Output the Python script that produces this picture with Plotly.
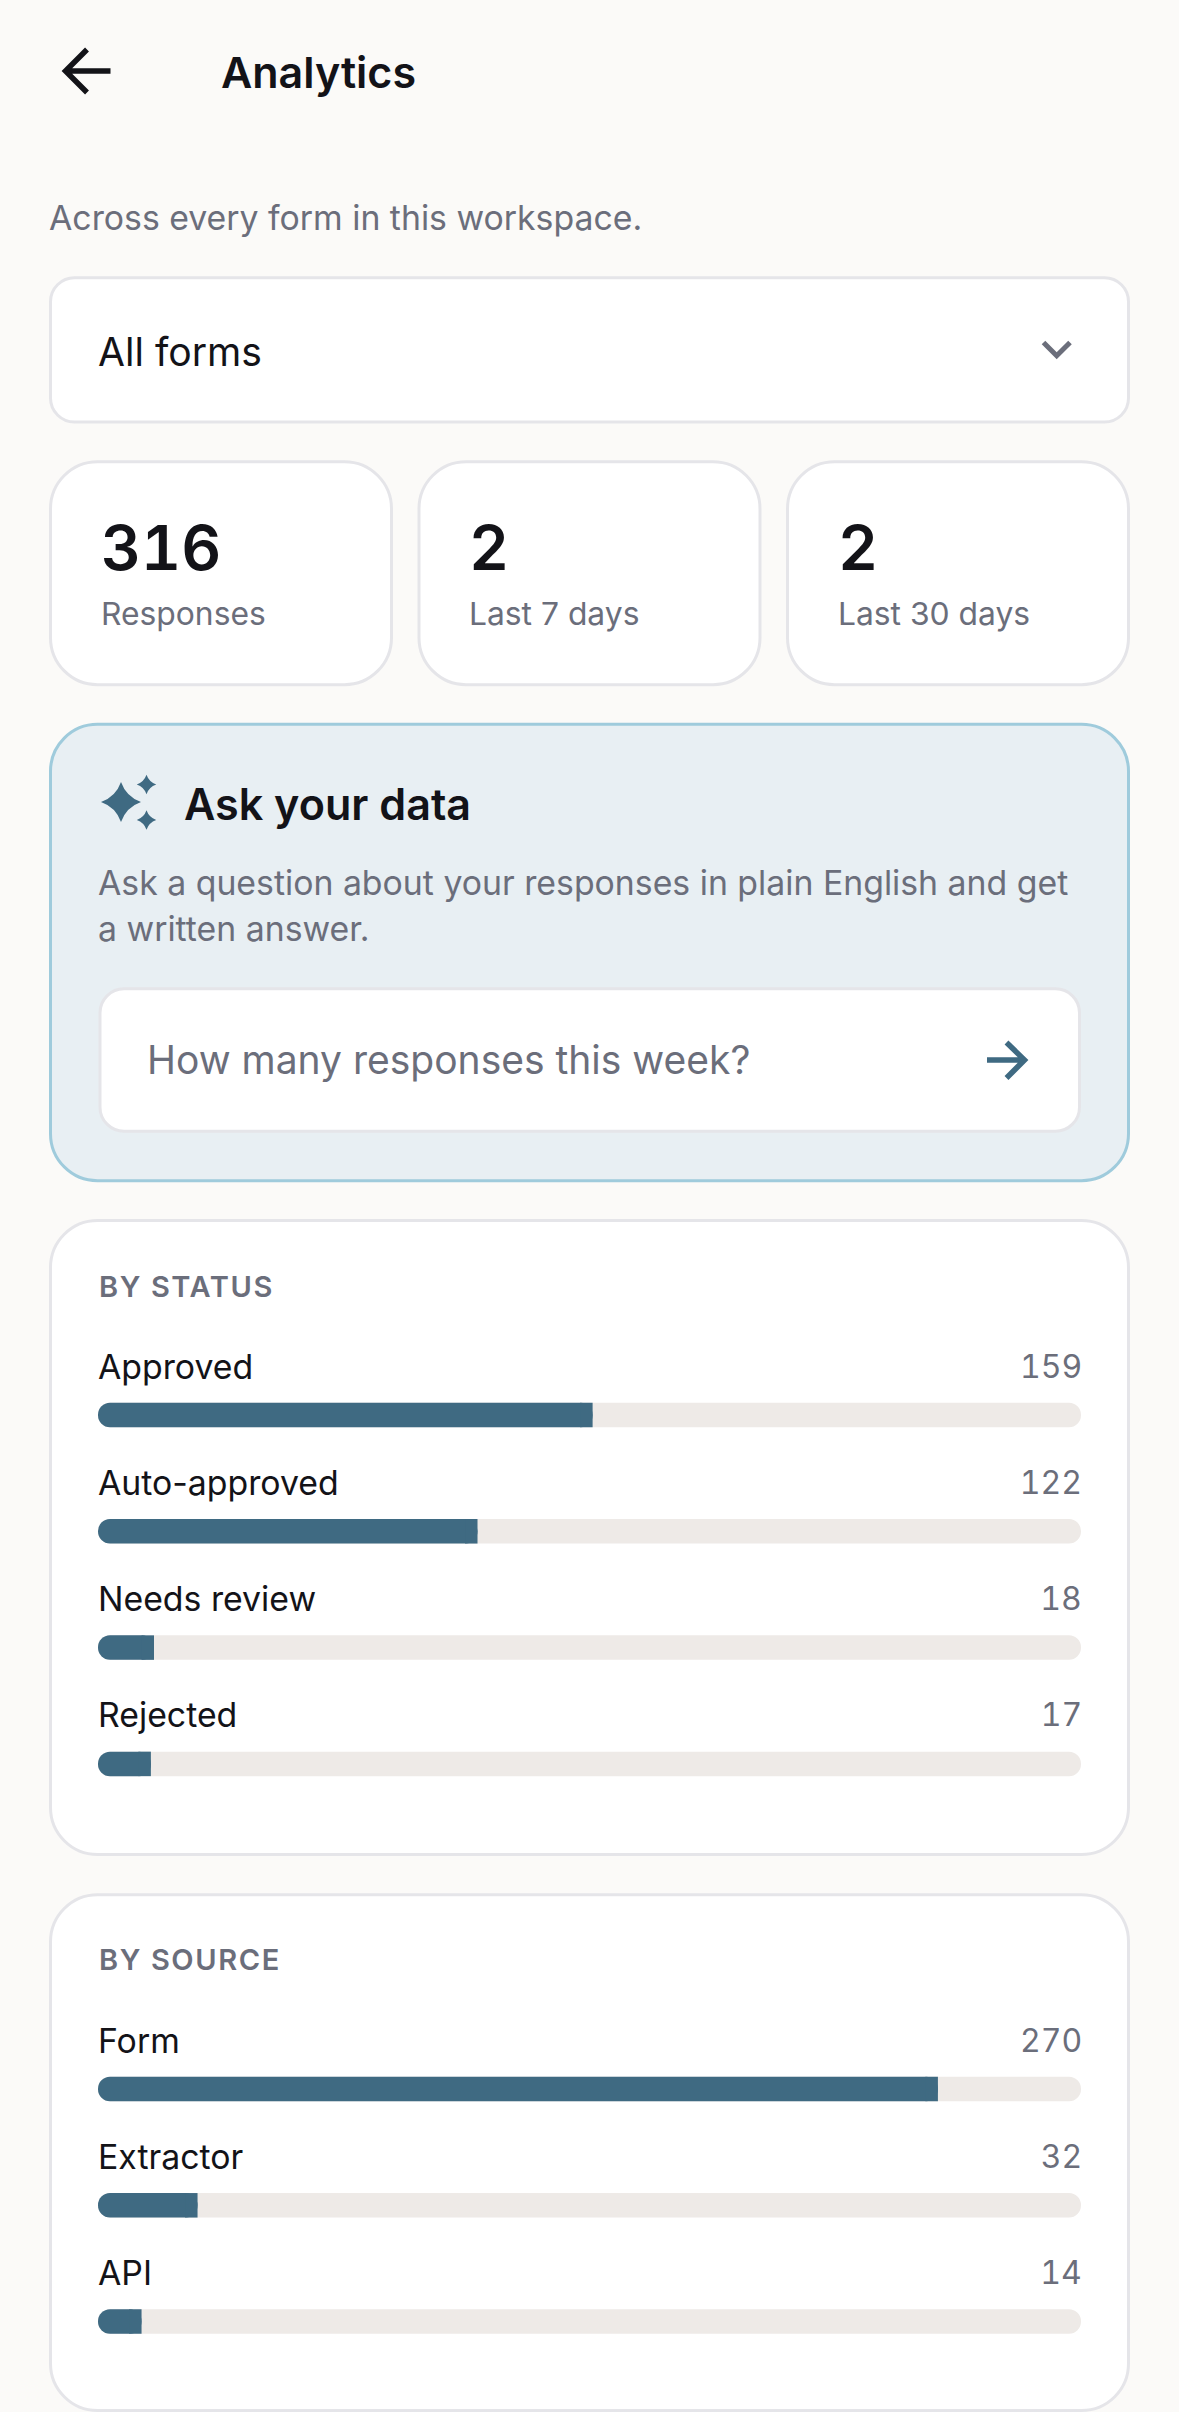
"""
Analytics screen - status and source breakdown of form responses.
"""
import plotly.graph_objects as go

WIDTH = 1179
HEIGHT = 2412

# Data
total_responses = 316
stat_values = ["316", "2", "2"]
stat_labels = ["Responses", "Last 7 days", "Last 30 days"]
status_labels = ["Approved", "Auto-approved", "Needs review", "Rejected"]
status_counts = [159, 122, 18, 17]
source_labels = ["Form", "Extractor", "API"]
source_counts = [270, 32, 14]

# Colours
BG = "#fbfaf8"
WHITE = "#ffffff"
BORDER = "#e5e5e9"
TRACK = "rgba(238,234,231,0.999)"  # alpha below 1 makes plotly snap bars to whole pixels
TEAL = "#3f6a82"
FILL = "rgba(63,106,130,0.999)"
DARK = "#131318"
GREY = "#6b6e7b"
ASK_BG = "#e8eff3"
ASK_BORDER = "#9fcbdc"

FONT = "Inter"
ROW_PITCH = 116.3
BAR_HEIGHT = 24.5
CAP = 4  # length of the square end cap, in axis units (just over the corner radius)


def rounded_rect(x0, y0, x1, y1, r):
    c = r * 0.4477  # control point offset for a circular corner
    return (
        f"M {x0 + r} {y0} L {x1 - r} {y0} C {x1 - c} {y0} {x1} {y0 + c} {x1} {y0 + r} "
        f"L {x1} {y1 - r} C {x1} {y1 - c} {x1 - c} {y1} {x1 - r} {y1} L {x0 + r} {y1} "
        f"C {x0 + c} {y1} {x0} {y1 - c} {x0} {y1 - r} L {x0} {y0 + r} "
        f"C {x0} {y0 + c} {x0 + c} {y0} {x0 + r} {y0} Z"
    )


def sparkle(cx, cy, r):
    k = r * 0.26
    return (
        f"M {cx} {cy - r} Q {cx + k} {cy - k} {cx + r} {cy} "
        f"Q {cx + k} {cy + k} {cx} {cy + r} "
        f"Q {cx - k} {cy + k} {cx - r} {cy} "
        f"Q {cx - k} {cy - k} {cx} {cy - r} Z"
    )


fig = go.Figure()


def add_card(x0, y0, x1, y1, r, fill=WHITE, border=BORDER):
    fig.add_shape(
        type="path", path=rounded_rect(x0, y0, x1, y1, r), xref="x", yref="y",
        fillcolor=fill, line=dict(color=border, width=3), layer="below",
    )


def add_icon(path, color, width=5.5):
    fig.add_shape(
        type="path", path=path, xref="x", yref="y",
        line=dict(color=color, width=width), layer="below",
    )


def add_text(x, y, text, size, color=DARK, weight=400, anchor="left"):
    fig.add_annotation(
        x=x, y=y, xref="x", yref="y", text=text, showarrow=False,
        xanchor=anchor, yanchor="middle", align=anchor, borderpad=0,
        font=dict(family=FONT, size=size, color=color, weight=weight),
    )


def add_rows(labels, counts, xname, yname, top):
    """Track and fill bars plus the label and count above each one."""
    n = len(labels)
    suffix = xname[1:]
    # a bar with a base gets all four corners rounded; the cap squares off the fill's end
    for size, base, color, radius in [
        ([total_responses] * n, [0] * n, TRACK, 12),
        (counts, [0] * n, FILL, 12),
        ([CAP] * n, [c - CAP for c in counts], FILL, 0),
    ]:
        fig.add_trace(go.Bar(
            y=labels, x=size, base=base, orientation="h", width=BAR_HEIGHT / ROW_PITCH,
            marker=dict(color=color, cornerradius=radius, line_width=0),
            hoverinfo="skip", showlegend=False, xaxis=xname, yaxis=yname,
        ))
    for label, count in zip(labels, counts):
        fig.add_annotation(
            x=0, y=label, xref=xname, yref=yname, text=label, showarrow=False,
            xanchor="left", yanchor="middle", yshift=49, xshift=-1, borderpad=0,
            font=dict(family=FONT, size=33.8, color=DARK),
        )
        fig.add_annotation(
            x=total_responses, y=label, xref=xname, yref=yname, text=str(count), showarrow=False,
            xanchor="right", yanchor="middle", yshift=49, xshift=1.5, borderpad=0,
            font=dict(family=FONT, size=32, color=GREY),
        )
    height = ROW_PITCH * n
    fig.update_layout({
        f"xaxis{suffix}": dict(
            domain=[98 / WIDTH, 1081 / WIDTH], range=[0, total_responses], visible=False,
            anchor=yname, fixedrange=True,
        ),
        f"yaxis{suffix}": dict(
            domain=[1 - (top + height) / HEIGHT, 1 - top / HEIGHT], type="category",
            categoryorder="array", categoryarray=labels,
            range=[n - 0.5, -0.5], visible=False, anchor=xname, fixedrange=True,
        ),
    })


# Header
add_icon("M 87 49.5 L 65.5 71 L 87 92.5 M 65 71 L 110.5 71", DARK)
add_text(220, 72, "Analytics", 43, weight=600)
add_text(48, 217, "Across every form in this workspace.", 33.8, GREY)

# Form selector
add_card(50.5, 277.7, 1128.5, 422, 24)
add_text(97, 351, "All forms", 39.1)
add_icon("M 1043.5 342.5 L 1056.7 355.8 L 1070 342.5", GREY, width=5)

# Stat cards
card_lefts = [50.5, 419, 787.5]
for left, value, label in zip(card_lefts, stat_values, stat_labels):
    add_card(left, 461.7, left + 341, 684.7, 47)
    add_text(left + 49, 547, value, 62, weight=600)
    add_text(left + 49, 613, label, 31.8, GREY)

# Ask your data
add_card(50.5, 724.3, 1128.5, 1180.7, 47, fill=ASK_BG, border=ASK_BORDER)
fig.add_shape(type="path", path=sparkle(121, 802, 20), xref="x", yref="y",
              fillcolor=TEAL, line_width=0, layer="below")
fig.add_shape(type="path", path=sparkle(146.5, 784.5, 9.7), xref="x", yref="y",
              fillcolor=TEAL, line_width=0, layer="below")
fig.add_shape(type="path", path=sparkle(146.5, 820, 9.7), xref="x", yref="y",
              fillcolor=TEAL, line_width=0, layer="below")
add_text(183, 804, "Ask your data", 43.1, weight=600)
add_text(97, 882, "Ask a question about your responses in plain English and get", 33.8, GREY)
add_text(97, 928, "a written answer.", 33.8, GREY)
add_card(100, 988.8, 1079.5, 1131.2, 24)
add_text(146, 1059, "How many responses this week?", 39, GREY)
add_icon("M 1006.5 1042.5 L 1024.5 1060 L 1006.5 1078 M 1024 1060 L 987 1060", TEAL)

# By status
add_card(50.5, 1220.5, 1128.5, 1854.5, 47)
add_text(98, 1286, "BY STATUS", 29, GREY, weight=600)
add_rows(status_labels, status_counts, "x2", "y2", 1415 - ROW_PITCH / 2)

# By source
add_card(50.5, 1894.7, 1128.5, 2410.5, 47)
add_text(98, 1959.5, "BY SOURCE", 29, GREY, weight=600)
add_rows(source_labels, source_counts, "x3", "y3", 2089 - ROW_PITCH / 2)

fig.update_layout(
    width=WIDTH,
    height=HEIGHT,
    margin=dict(l=0, r=0, t=0, b=0),
    paper_bgcolor=BG,
    plot_bgcolor="rgba(0,0,0,0)",
    barmode="overlay",
    showlegend=False,
    xaxis=dict(domain=[0, 1], range=[0, WIDTH], visible=False, fixedrange=True),
    yaxis=dict(domain=[0, 1], range=[HEIGHT, 0], visible=False, fixedrange=True),
)

# plotly has no setting for tabular figures or letter spacing, so set them on the drawn text
post_script = """
document.body.style.margin = '0';
document.querySelectorAll('.annotation-text').forEach(function (el) {
    var text = el.textContent;
    var numeric = /^[0-9]+$/.test(text);
    if (!numeric && !/^BY /.test(text)) return;
    var box = el.getBBox();
    var alignRight = numeric && el.getBoundingClientRect().left > 900;
    if (numeric) el.style.fontFeatureSettings = '"tnum"';
    else el.style.letterSpacing = '1.6px';
    el.setAttribute('text-anchor', alignRight ? 'end' : 'start');
    el.setAttribute('x', alignRight ? box.x + box.width : box.x);
});
"""

fig.write_html("out.html", config={"displayModeBar": False}, post_script=post_script)
